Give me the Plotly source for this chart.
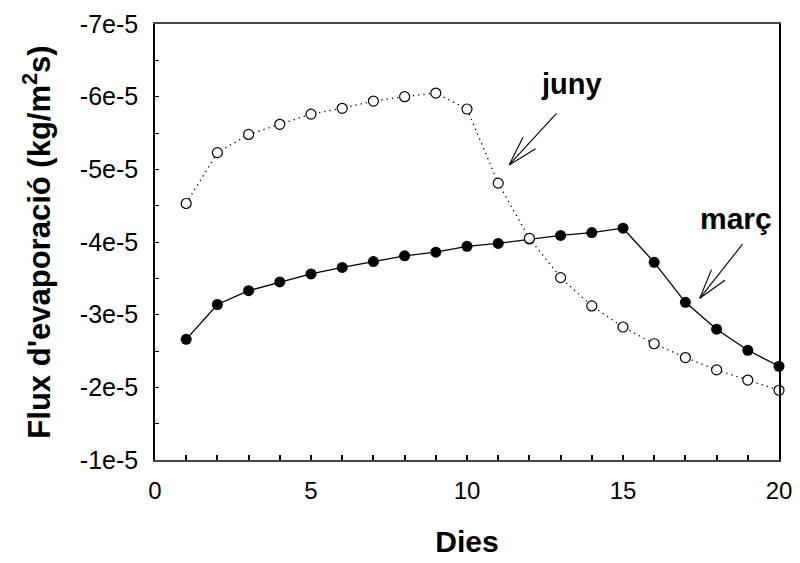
import math
import plotly.graph_objects as go

# Days of the simulation
dies = list(range(1, 21))

# Evaporation flux (kg/m^2 s) for the two months
flux_marc = [-2.66e-5, -3.14e-5, -3.33e-5, -3.45e-5, -3.56e-5, -3.65e-5, -3.73e-5,
             -3.81e-5, -3.86e-5, -3.94e-5, -3.98e-5, -4.04e-5, -4.09e-5, -4.13e-5,
             -4.19e-5, -3.72e-5, -3.17e-5, -2.80e-5, -2.51e-5, -2.29e-5]
flux_juny = [-4.53e-5, -5.23e-5, -5.48e-5, -5.62e-5, -5.76e-5, -5.84e-5, -5.94e-5,
             -6.00e-5, -6.05e-5, -5.83e-5, -4.81e-5, -4.05e-5, -3.51e-5, -3.12e-5,
             -2.83e-5, -2.60e-5, -2.41e-5, -2.24e-5, -2.10e-5, -1.96e-5]

# Axis ticks: a tick at every day, labelled every 5 days
x_tick_vals = list(range(0, 21))
x_tick_text = ["0", "", "", "", "", "5", "", "", "", "", "10", "", "", "", "",
               "15", "", "", "", "", "20"]
# A tick every 0.5e-5, labelled every 1e-5
y_tick_vals = [-7e-5, -6.5e-5, -6e-5, -5.5e-5, -5e-5, -4.5e-5, -4e-5,
               -3.5e-5, -3e-5, -2.5e-5, -2e-5, -1.5e-5, -1e-5]
y_tick_text = ["-7e-5", "", "-6e-5", "", "-5e-5", "", "-4e-5",
               "", "-3e-5", "", "-2e-5", "", "-1e-5"]

FONT = "Arial, Liberation Sans, sans-serif"

# Plot area geometry (pixels) used to shape the annotation arrows
W, H = 800, 563
ML, MR, MT, MB = 155, 21, 24, 103
X_RANGE = (0, 20)
Y_RANGE = (-1e-5, -7e-5)
PW, PH = W - ML - MR, H - MT - MB
SX = (X_RANGE[1] - X_RANGE[0]) / PW      # data units per pixel (x)
SY = (Y_RANGE[0] - Y_RANGE[1]) / PH      # data units per pixel (y, downward)

fig = go.Figure()

fig.add_trace(go.Scatter(
    x=dies, y=flux_marc, mode="lines+markers", name="març",
    line=dict(color="black", width=1.3),
    marker=dict(symbol="circle", size=11, color="black",
                line=dict(color="black", width=0)),
    cliponaxis=False, showlegend=False,
))
fig.add_trace(go.Scatter(
    x=dies, y=flux_juny, mode="lines+markers", name="juny",
    line=dict(color="black", width=1.3, dash="1.3px,4px"),
    marker=dict(symbol="circle", size=10, color="white",
                line=dict(color="black", width=1.2)),
    cliponaxis=False, showlegend=False,
))


def add_arrow(tip, tail):
    """Straight shaft with an open V head at the tip."""
    tx, ty = tip
    ux, uy = tail
    fig.add_shape(type="line", x0=ux, y0=uy, x1=tx, y1=ty,
                  line=dict(color="black", width=1.1), xref="x", yref="y")
    ang = math.atan2((uy - ty) / SY, (ux - tx) / SX)
    for d in (-16, 16):
        a = ang + math.radians(d)
        bx = tx + 31 * math.cos(a) * SX
        by = ty + 31 * math.sin(a) * SY
        fig.add_shape(type="line", x0=tx, y0=ty, x1=bx, y1=by,
                      line=dict(color="black", width=1.1), xref="x", yref="y")


add_arrow((11.35, -5.06e-5), (12.87, -5.77e-5))
add_arrow((17.46, -3.225e-5), (18.83, -3.97e-5))

fig.add_annotation(x=13.36, y=-6.17e-5, text="<b>juny</b>", showarrow=False,
                   font=dict(family=FONT, size=29, color="black"),
                   xanchor="center", yanchor="middle")
fig.add_annotation(x=18.62, y=-4.33e-5, text="<b>març</b>", showarrow=False,
                   font=dict(family=FONT, size=30, color="black"),
                   xanchor="center", yanchor="middle")

fig.update_xaxes(
    range=list(X_RANGE), tickmode="array", tickvals=x_tick_vals, ticktext=x_tick_text,
    ticks="inside", ticklen=5, tickcolor="black", tickwidth=1.5,
    showline=True, linecolor="#444", linewidth=1.6, mirror=True,
    showgrid=False, zeroline=False, automargin=False,
    tickfont=dict(family=FONT, size=24, color="black"),
    ticklabelstandoff=8,
    title=dict(text="<b>Dies</b>", font=dict(family=FONT, size=30, color="black"),
               standoff=28),
)
fig.update_yaxes(
    range=list(Y_RANGE), tickmode="array", tickvals=y_tick_vals, ticktext=y_tick_text,
    ticks="inside", ticklen=4, tickcolor="black", tickwidth=1,
    showline=True, linecolor="black", linewidth=1.6, mirror=True,
    showgrid=False, zeroline=False, automargin=False,
    tickfont=dict(family=FONT, size=25, color="black"),
    ticklabelstandoff=10,
    title=dict(text="<b>Flux d'evaporació (kg/m<sup>2</sup>s)</b>",
               font=dict(family=FONT, size=31, color="black"), standoff=20),
)

fig.update_layout(
    width=W, height=H,
    margin=dict(l=ML, r=MR, t=MT, b=MB),
    paper_bgcolor="white", plot_bgcolor="white",
)

fig.write_html("out.html")
